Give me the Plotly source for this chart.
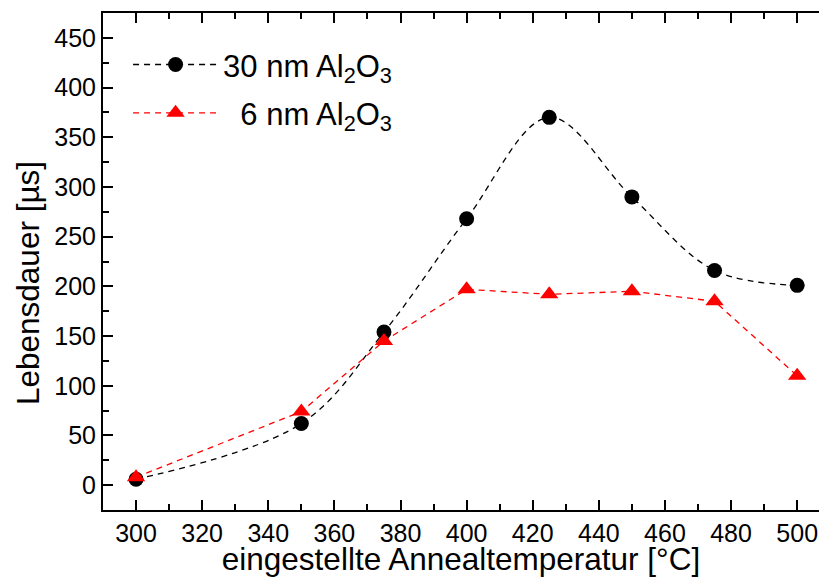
import plotly.graph_objects as go

temps = [300, 350, 375, 400, 425, 450, 475, 500]
life_30nm = [6, 62, 154, 268, 370, 290, 216, 201]
life_6nm = [8, 74, 145, 197, 192, 195, 185, 110]

x_ticks = [300, 320, 340, 360, 380, 400, 420, 440, 460, 480, 500]
y_ticks = [0, 50, 100, 150, 200, 250, 300, 350, 400, 450]

FONT = "Liberation Sans, Arial, sans-serif"

fig = go.Figure()
fig.add_trace(go.Scatter(
    x=temps, y=life_30nm, mode="lines+markers",
    name="30 nm Al<sub>2</sub>O<sub>3</sub>",
    line=dict(color="black", width=1.3, dash="6px,5px", shape="spline", smoothing=1.0),
    marker=dict(symbol="circle", size=15, color="black"),
    legendgroup="a",
))
fig.add_trace(go.Scatter(
    x=temps, y=life_6nm, mode="lines+markers",
    name="\u00a0\u00a06 nm Al<sub>2</sub>O<sub>3</sub>",
    line=dict(color="#ff0000", width=1.3, dash="6px,5px"),
    marker=dict(symbol="triangle-up", size=16, color="#ff0000"),
    legendgroup="b",
))

axis_common = dict(
    showline=True, linecolor="black", linewidth=2,
    ticks="inside", ticklen=10, tickwidth=2, tickcolor="black",
    showgrid=False, zeroline=False, automargin=False,
    tickfont=dict(family=FONT, size=25, color="black"),
)

fig.update_layout(
    template="none",
    width=819, height=577,
    margin=dict(l=103, r=0, t=13, b=67, autoexpand=False),
    paper_bgcolor="white", plot_bgcolor="white",
    font=dict(family=FONT, color="black"),
    xaxis=dict(
        range=[290, 506.6], tickvals=x_ticks, mirror="ticks",
        minor=dict(dtick=10, ticklen=6, tickwidth=2, tickcolor="black", ticks="inside"),
        title=dict(text="eingestellte Annealtemperatur [°C]",
                   font=dict(family=FONT, size=31.5, color="black"), standoff=6),
        **axis_common,
    ),
    yaxis=dict(
        range=[-25, 475], tickvals=y_ticks, mirror=False,
        minor=dict(dtick=25, ticklen=6, tickwidth=2, tickcolor="black", ticks="inside"),
        **axis_common,
    ),
    annotations=[dict(
        text="Lebensdauer [µs]", textangle=-90,
        xref="paper", yref="paper", x=0, y=0.4567,
        xanchor="center", yanchor="middle", xshift=-75, showarrow=False,
        font=dict(family=FONT, size=31.5, color="black"),
    )],
    legend=dict(
        x=0.035, y=0.95, xanchor="left", yanchor="top",
        bgcolor="rgba(0,0,0,0)", borderwidth=0,
        font=dict(family=FONT, size=31, color="black"),
        itemwidth=85, tracegroupgap=5,
    ),
    showlegend=True,
)

fig.write_html(
    "out.html",
    config={"displayModeBar": False},
    post_script="document.body.style.margin='0';document.body.style.overflow='hidden';",
)
